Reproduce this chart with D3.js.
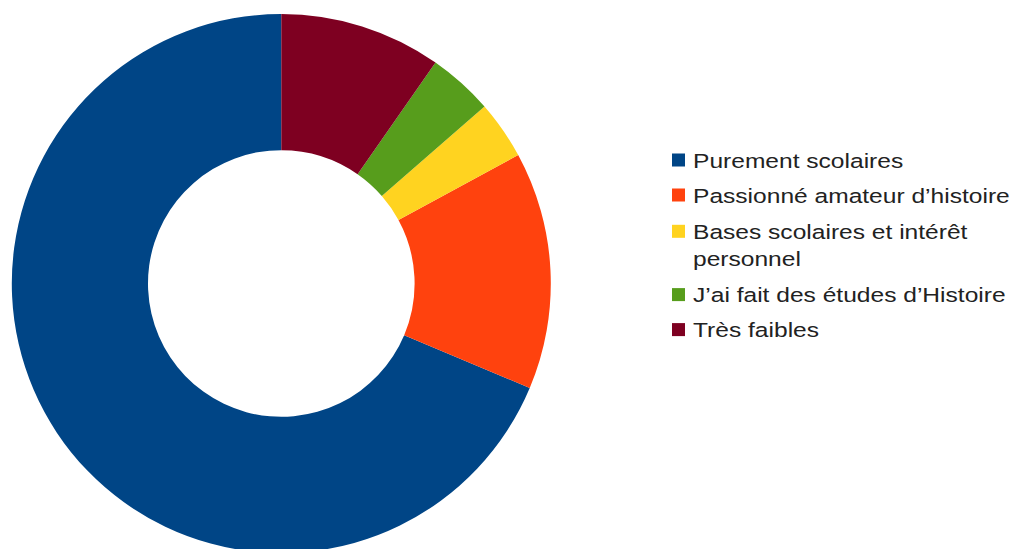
<!DOCTYPE html>
<html>
<head>
<meta charset="utf-8">
<script src="https://cdn.jsdelivr.net/npm/d3@7"></script>
<style>
  html, body { margin: 0; padding: 0; background: #fff; }
  svg { display: block; }
</style>
</head>
<body>
<svg id="chart" width="1014" height="549"></svg>
<script>
const categories = [
  "Purement scolaires",
  "Passionné amateur d’histoire",
  "Bases scolaires et intérêt personnel",
  "J’ai fait des études d’Histoire",
  "Très faibles"
];
const legendLines = [
  ["Purement scolaires"],
  ["Passionné amateur d’histoire"],
  ["Bases scolaires et intérêt", "personnel"],
  ["J’ai fait des études d’Histoire"],
  ["Très faibles"]
];
const values = [68.7, 14.25, 3.5, 3.9, 9.7];
const colors = ["#004586", "#ff420e", "#ffd320", "#579d1c", "#7e0021"];

const svg = d3.select("#chart");
const cx = 281.3, cy = 283.5, R = 269.5, r = 133.3;

const pie = d3.pie().sort(null).startAngle(0).endAngle(-2 * Math.PI);
const arc = d3.arc().innerRadius(r).outerRadius(R);
const color = d3.scaleOrdinal().domain(categories).range(colors);

const data = categories.map((c, i) => ({ cat: c, value: values[i] }));

svg.append("g")
  .attr("transform", `translate(${cx},${cy})`)
  .selectAll("path")
  .data(pie.value(d => d.value)(data))
  .join("path")
  .attr("d", arc)
  .attr("fill", d => color(d.data.cat));

// Legend
const sx = 1.26;
const fs = 19.5;
const baselines = [[167.7], [202.7], [239, 266], [302.3], [337.3]];
const lg = svg.append("g");
categories.forEach((c, i) => {
  const b = baselines[i][0];
  lg.append("rect")
    .attr("x", 672).attr("y", b - 14.2)
    .attr("width", 13).attr("height", 13)
    .attr("fill", color(c));
  legendLines[i].forEach((line, j) => {
    lg.append("text")
      .attr("transform", `translate(693,${baselines[i][j]}) scale(${sx},1)`)
      .attr("font-family", "'Liberation Sans', Arial, sans-serif")
      .attr("font-size", fs)
      .attr("fill", "#222")
      .text(line);
  });
});
</script>
</body>
</html>
